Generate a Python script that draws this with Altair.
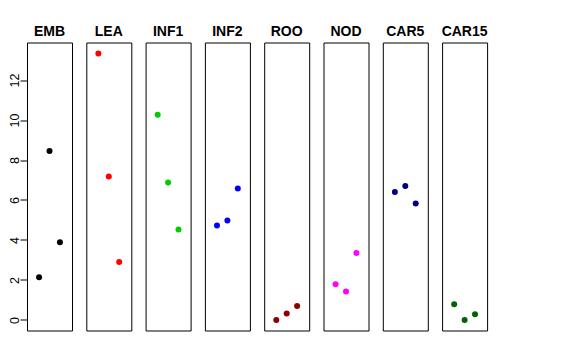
import altair as alt
import pandas as pd

panels = ["EMB", "LEA", "INF1", "INF2", "ROO", "NOD", "CAR5", "CAR15"]
colors = ["#000000", "#FF0000", "#00CD00", "#0000FF", "#8B0000", "#FF00FF", "#000080", "#006400"]
rep = [1, 2, 3]
values = {
    "EMB": [2.13, 8.45, 3.88],
    "LEA": [13.33, 7.17, 2.90],
    "INF1": [10.27, 6.88, 4.52],
    "INF2": [4.72, 4.98, 6.58],
    "ROO": [0.00, 0.32, 0.70],
    "NOD": [1.78, 1.42, 3.35],
    "CAR5": [6.40, 6.70, 5.83],
    "CAR15": [0.78, 0.00, 0.28],
}

rows = []
for p in panels:
    for r, v in zip(rep, values[p]):
        rows.append({"panel": p, "rep": r, "value": v})
df = pd.DataFrame(rows)

base = alt.Chart(df).mark_circle(size=36, opacity=1).encode(
    x=alt.X("rep:Q", scale=alt.Scale(domain=[-0.16, 4.16], nice=False, zero=False), axis=None),
    y=alt.Y(
        "value:Q",
        scale=alt.Scale(domain=[-0.53, 13.88], nice=False, zero=False),
        axis=alt.Axis(
            values=[0, 2, 4, 6, 8, 10, 12],
            title=None,
            grid=False,
            domain=False,
            tickSize=7,
            tickColor="black",
            labelAngle=-90,
            labelAlign="center",
            labelBaseline="alphabetic",
            labelPadding=2,
            labelFont="Liberation Sans",
            labelFontSize=12.5,
            labelColor="black",
        ),
    ),
    color=alt.Color("panel:N", scale=alt.Scale(domain=panels, range=colors), legend=None),
).properties(width=45, height=288)

chart = base.facet(
    column=alt.Column(
        "panel:N",
        sort=panels,
        header=alt.Header(
            title=None,
            labelFont="Liberation Sans",
            labelFontSize=14,
            labelFontWeight="bold",
            labelColor="black",
            labelPadding=3.4,
        ),
    ),
    spacing=14.3,
    bounds="flush",
).configure_view(stroke="black", strokeWidth=1).properties(
    padding={"left": 0, "top": 16.5, "right": 5, "bottom": 5}
)

chart.save("out.html", embed_options={"renderer": "svg", "actions": False})
